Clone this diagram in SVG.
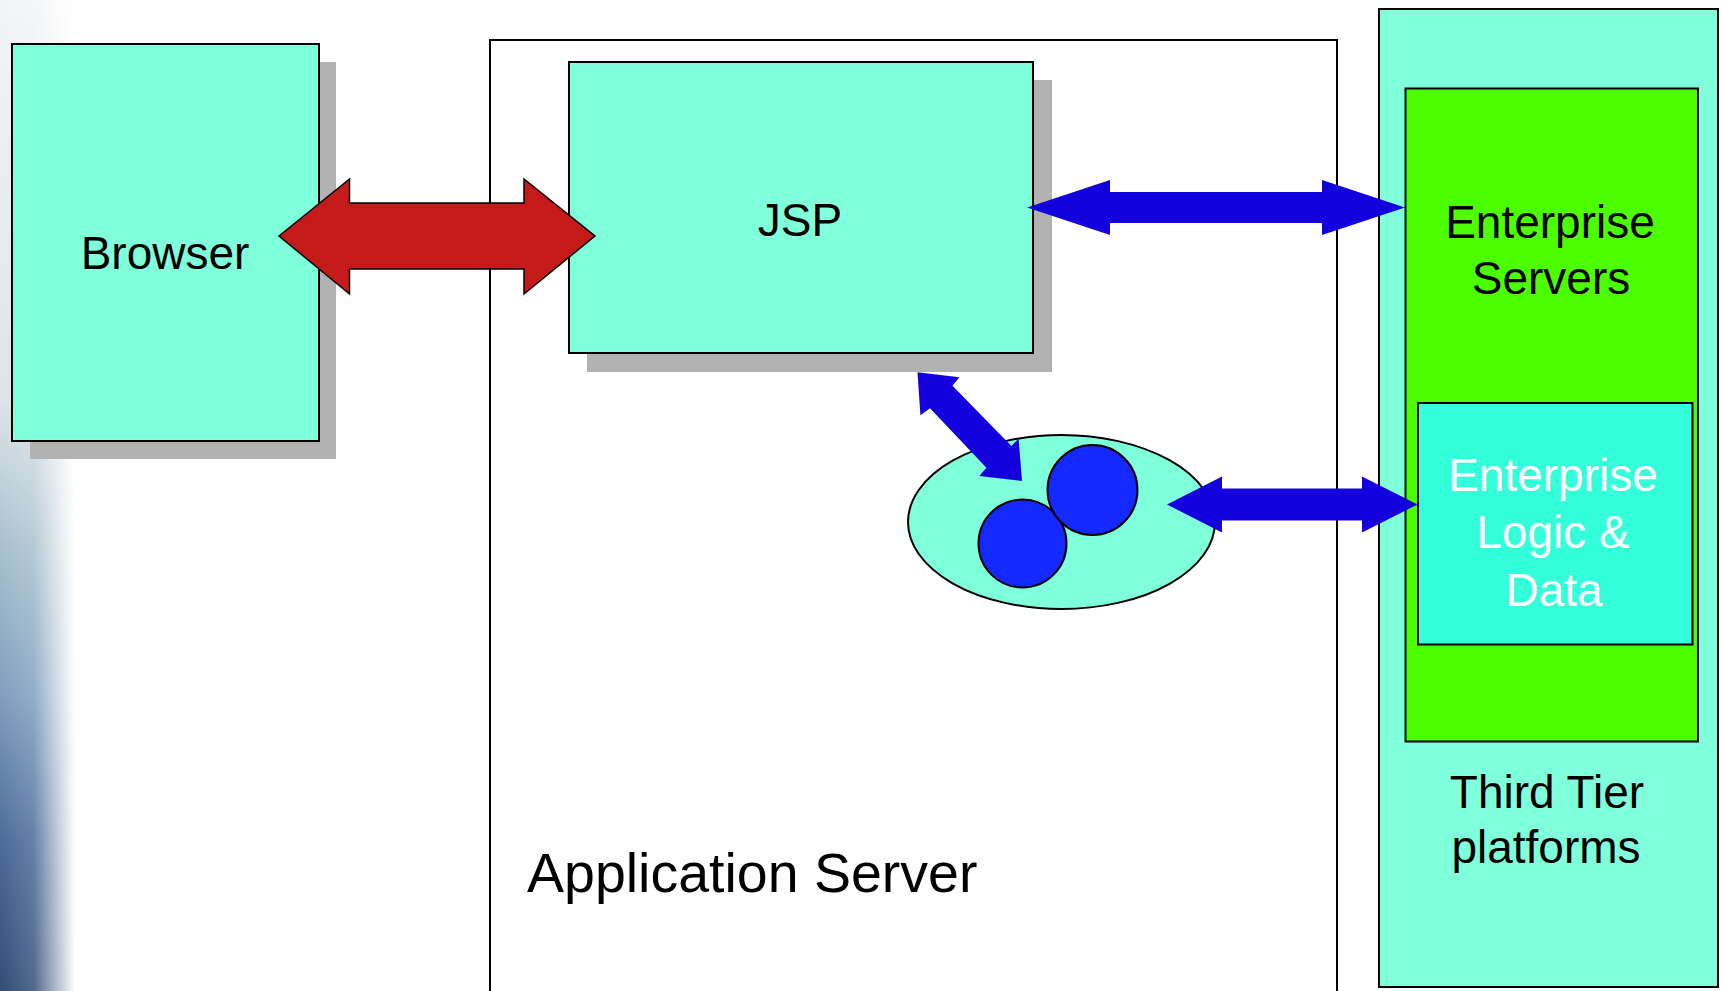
<svg xmlns="http://www.w3.org/2000/svg" width="1723" height="991" viewBox="0 0 1723 991">
<defs>
<linearGradient id="bgv" x1="0" y1="0" x2="0" y2="1">
<stop offset="0" stop-color="#F2F4F6"/>
<stop offset="0.4" stop-color="#DDE4EA"/>
<stop offset="0.55" stop-color="#A9C1CE"/>
<stop offset="0.7" stop-color="#7F9FBF"/>
<stop offset="0.85" stop-color="#4B6A99"/>
<stop offset="1" stop-color="#324E78"/>
</linearGradient>
<linearGradient id="fadeh" x1="0" y1="0" x2="1" y2="0">
<stop offset="0" stop-color="#fff" stop-opacity="1"/>
<stop offset="0.45" stop-color="#fff" stop-opacity="0.85"/>
<stop offset="1" stop-color="#fff" stop-opacity="0"/>
</linearGradient>
<mask id="fm"><rect x="0" y="0" width="75" height="991" fill="url(#fadeh)"/></mask>
<style>
.lbl{font-family:"Liberation Sans",Arial,sans-serif;font-size:46px;fill:#000;text-anchor:middle}
.box{fill:#80FFDB;stroke:#000;stroke-width:2}
.shadow{fill:#B2B2B2}
.blue{fill:#1400DC}
.ball{fill:#1329FF;stroke:#000;stroke-width:2}
</style>
</defs>
<rect x="0" y="0" width="1723" height="991" fill="#fff"/>
<rect x="0" y="0" width="75" height="991" fill="url(#bgv)" mask="url(#fm)"/>
<g id="app-server">
<rect x="490" y="40" width="847" height="970" fill="#fff" stroke="#000" stroke-width="2"/>
<text x="527" y="892" style="font-family:'Liberation Sans',Arial,sans-serif;font-size:55.5px;fill:#000">Application Server</text>
</g>
<g id="browser">
<rect class="shadow" x="30" y="62" width="306" height="397"/>
<rect class="box" x="12" y="44" width="307" height="397"/>
<text class="lbl" x="165" y="269">Browser</text>
</g>
<g id="jsp">
<rect class="shadow" x="587" y="80" width="465" height="292"/>
<rect class="box" x="569" y="62" width="464" height="291"/>
<text class="lbl" x="800" y="236">JSP</text>
</g>
<g id="beans">
<ellipse cx="1061.5" cy="522" rx="153.5" ry="87" fill="#80FFDB" stroke="#000" stroke-width="2"/>
<circle class="ball" cx="1022.5" cy="543.5" r="44"/>
<circle class="ball" cx="1092.5" cy="490" r="45"/>
</g>
<g id="third-tier">
<rect class="box" x="1379" y="9" width="339" height="978"/>
<text class="lbl" x="1547" y="808">Third Tier</text>
<text class="lbl" x="1546" y="863">platforms</text>
</g>
<g id="enterprise-servers">
<rect x="1405.5" y="88.5" width="292.5" height="653" fill="#4BFF00" stroke="#000" stroke-width="2"/>
<text class="lbl" x="1550" y="238">Enterprise</text>
<text class="lbl" x="1551" y="294">Servers</text>
</g>
<g id="enterprise-logic">
<rect x="1418" y="403" width="274.5" height="241.5" fill="#33FFDB" stroke="#000" stroke-width="2"/>
<text class="lbl" x="1553" y="491" style="fill:#fff">Enterprise</text>
<text class="lbl" x="1553" y="548" style="fill:#fff">Logic &amp;</text>
<text class="lbl" x="1554" y="606" style="fill:#fff">Data</text>
</g>
<g id="connectors">
<polygon points="279,236 349.5,179 349.5,203 524,203 524,179 595,236 524,294 524,269 349.5,269 349.5,294" fill="#C41A1A" stroke="#000" stroke-width="1.5" stroke-linejoin="miter"/>
<polygon class="blue" points="1027,207.5 1110,180 1110,192 1322,192 1322,180 1405,207.5 1322,235 1322,223 1110,223 1110,235"/>
<polygon class="blue" points="1167,504.5 1222,476.5 1222,488.5 1362,488.5 1362,476.5 1417.5,504.5 1362,532.5 1362,520.5 1222,520.5 1222,532.5"/>
<polygon class="blue" points="917.5,372.3 959.3,377.3 952.5,385.7 1011.4,446 1018.6,438.7 1022,481 979.3,476 986.4,467.7 930,408.3 920.4,415.3"/>
</g>
</svg>
